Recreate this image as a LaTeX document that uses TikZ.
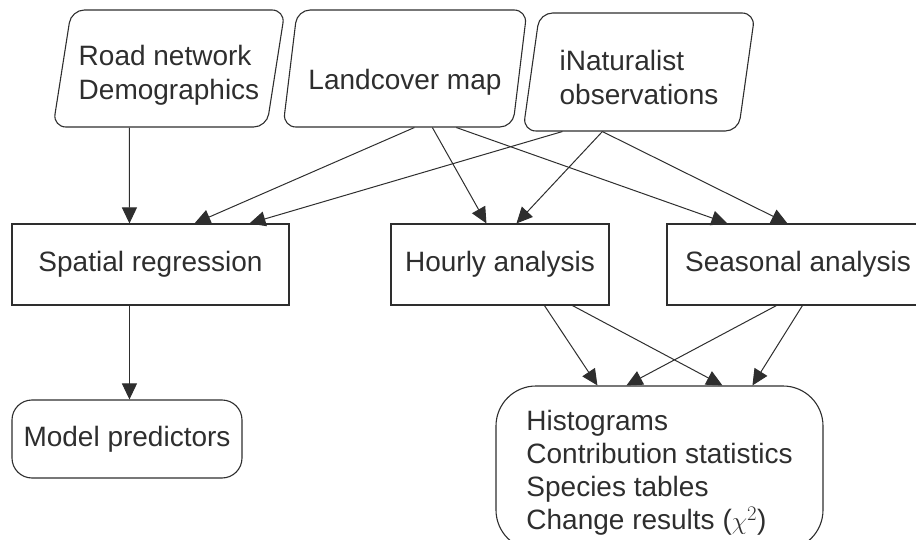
\documentclass[tikz,border=0pt]{standalone}
\usepackage{fontspec}
\setmainfont{Liberation Sans}
\usetikzlibrary{shapes.geometric,arrows.meta}
\definecolor{ink}{HTML}{2E2E2E}

\begin{document}
\begin{tikzpicture}[x=1pt,y=-1pt,line width=1.1pt,draw=ink,text=ink,
        src/.style={draw,trapezium,trapezium left angle=77,trapezium right angle=103,
            trapezium stretches body,rounded corners=13pt,minimum height=117pt,
            align=left,font=\fontsize{28}{34}\selectfont},
        task/.style={draw,rectangle,minimum height=81pt,font=\fontsize{28}{33}\selectfont},
        outbox/.style={draw,rectangle,align=left,font=\fontsize{28}{33}\selectfont},
        link/.style={-{Triangle[length=16pt,width=15pt]},line width=1pt}]
    \path[use as bounding box] (0,0) rectangle (916,540);
    \clip (0,0) rectangle (916,540);
    % inputs
    \node[src,minimum width=232pt] (road) at (169,68.5) {\rule{0pt}{33pt}Road network\\Demographics};
    \node[src,minimum width=244pt,text height=49pt,text depth=6pt] (land) at (405,68.5) {Landcover map};
    \node[src,minimum width=232pt,minimum height=118pt] (inat) at (639,72) {\rule{0pt}{31pt}iNaturalist\\observations};
    % analyses
    \node[task,minimum width=277pt] (spatial) at (150.5,264.5) {Spatial regression};
    \node[task,minimum width=218pt] (hourly) at (500,264.5) {Hourly analysis};
    \node[task,minimum width=262pt] (seasonal) at (798,264.5) {Seasonal analysis};
    % outputs
    \node[outbox,rounded corners=20pt,minimum width=230pt,minimum height=78pt] (model) at (127,439) {Model predictors};
    \node[outbox,rounded corners=40pt,minimum width=327pt,minimum height=164pt] (results) at (659.5,468)
        {\rule{0pt}{30pt}Histograms\\Contribution statistics\\Species tables\\Change results ($\chi^{2}$)};
    \foreach \a/\s/\b/\t in {
        road.bottom left corner/77/spatial.north west/118,
        land.bottom left corner/132/spatial.north west/183,
        inat.bottom left corner/40/spatial.north west/238,
        land.bottom left corner/150/hourly.north west/96,
        inat.bottom left corner/80/hourly.north west/126,
        land.bottom left corner/174/seasonal.north west/61,
        inat.bottom left corner/80/seasonal.north west/121,
        spatial.south west/118/model.north west/118,
        hourly.south west/154/results.north west/102,
        hourly.south west/182/results.north west/227,
        seasonal.south west/110/results.north west/131,
        seasonal.south west/136/results.north west/257
    }
        \draw[link] ([xshift=\s pt]\a) -- ([xshift=\t pt]\b);
\end{tikzpicture}
\end{document}
